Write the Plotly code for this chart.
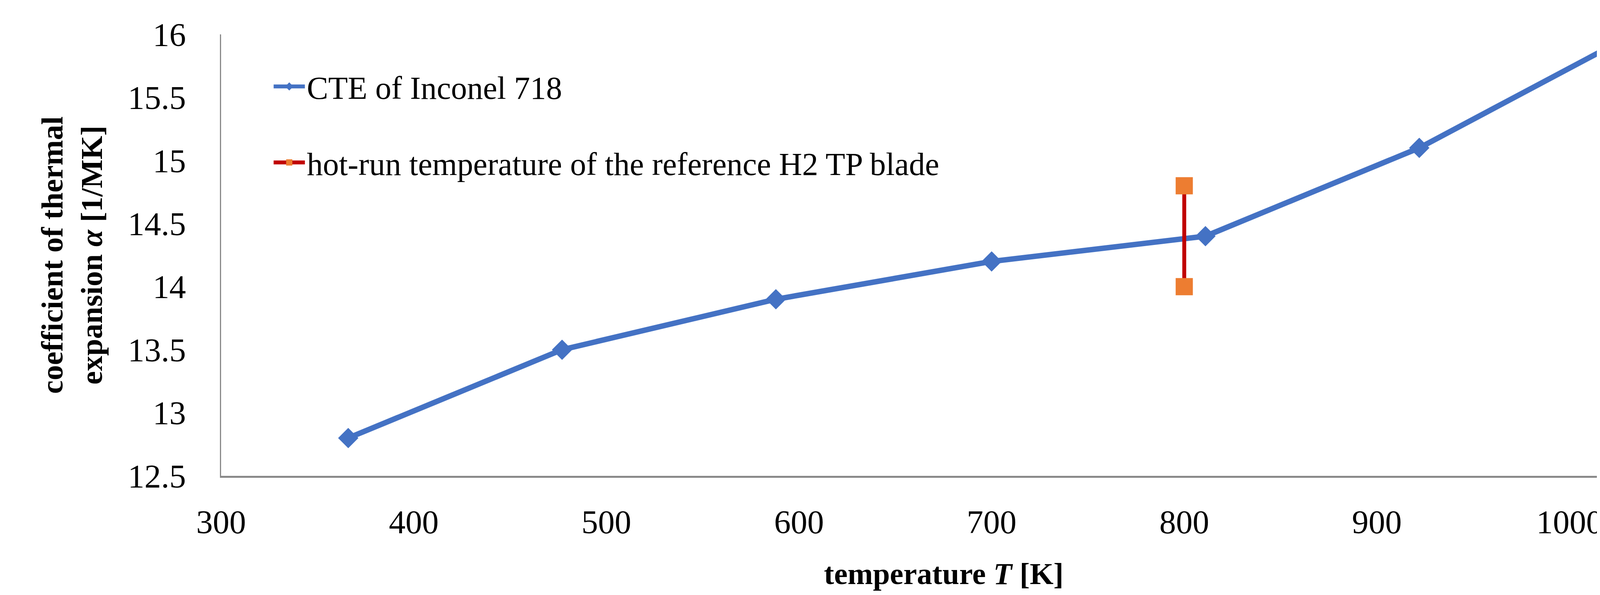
import plotly.graph_objects as go

temps = [366, 477, 588, 700, 811, 922, 1033]
cte = [12.8, 13.5, 13.9, 14.2, 14.4, 15.1, 16.0]
hot_x = [800, 800]
hot_y = [14.0, 14.8]

F = "Liberation Serif"
fig = go.Figure()
fig.add_trace(go.Scatter(x=temps, y=cte, mode="lines+markers", name="CTE of Inconel 718",
                         legendgroup="a",
                         line=dict(color="#4472C4", width=14),
                         marker=dict(symbol="diamond", size=40, color="#4472C4")))
fig.add_trace(go.Scatter(x=hot_x, y=hot_y, mode="lines+markers",
                         name="hot-run temperature of the reference H2 TP blade",
                         legendgroup="b",
                         line=dict(color="#C00000", width=10),
                         marker=dict(symbol="square", size=44, color="#ED7D31")))
fig.update_layout(
    width=4299, height=1523, plot_bgcolor="white", paper_bgcolor="white",
    margin=dict(l=558, r=41, t=80, b=313),
    font=dict(family=F, size=85, color="black"),
    showlegend=True,
    legend=dict(x=0.035, y=0.935, xanchor="left", yanchor="top", font=dict(size=82),
                tracegroupgap=85, bgcolor="rgba(0,0,0,0)", itemwidth=80),
    xaxis=dict(range=[300, 1050.3], tickvals=[300, 400, 500, 600, 700, 800, 900, 1000],
               showgrid=False, showline=True, linecolor="#898989", linewidth=5,
               ticks="", zeroline=False, tickfont=dict(size=85), ticklabelstandoff=40,
               title=dict(text="<b>temperature <i>T</i> [K]</b>", font=dict(size=78), standoff=60)),
    yaxis=dict(range=[12.5, 16], dtick=0.5, showgrid=False, showline=True,
               linecolor="#898989", linewidth=3, ticks="", zeroline=False,
               tickfont=dict(size=85), ticklabelstandoff=70,
               title=dict(text="<b>coefficient of thermal<br>expansion <i>α</i> [1/MK]</b>",
                          font=dict(size=78), standoff=40)),
)
fig.write_html("out.html")
